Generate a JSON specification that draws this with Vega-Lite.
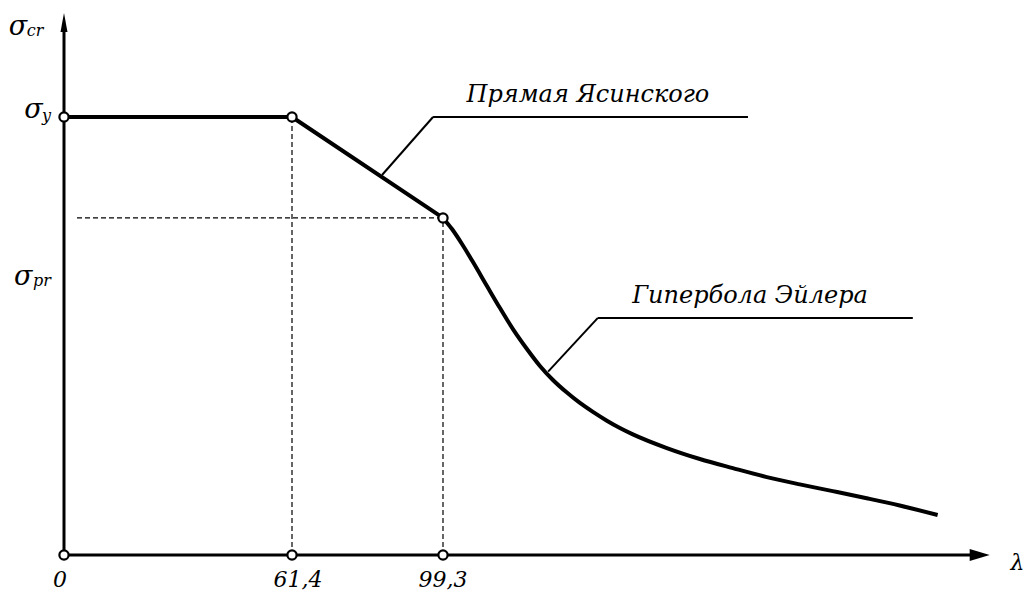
{
  "$schema": "https://vega.github.io/schema/vega-lite/v6.json",
  "width": 1028,
  "height": 594,
  "autosize": {"type": "none"},
  "padding": 0,
  "background": "white",
  "config": {"view": {"stroke": null}},
  "datasets": {
    "axes": [
      {"x": 0, "y": 0, "x2": 0, "y2": 287.7},
      {"x": 0, "y": 0, "x2": 232.8, "y2": 0}
    ],
    "dashed": [
      {"x": 61.4, "y": 0, "x2": 61.4, "y2": 240},
      {"x": 99.3, "y": 0, "x2": 99.3, "y2": 184.7},
      {"x": 3.5, "y": 184.7, "x2": 99.3, "y2": 184.7}
    ],
    "leaders": [
      {"x": 84.0, "y": 208.2, "x2": 96.8, "y2": 240},
      {"x": 96.8, "y": 240, "x2": 175.9, "y2": 240},
      {"x": 125.7, "y": 100.5, "x2": 138.2, "y2": 129.9},
      {"x": 138.2, "y": 129.9, "x2": 217.3, "y2": 129.9}
    ],
    "straight": [
      {"x": 0, "y": 240},
      {"x": 61.4, "y": 240},
      {"x": 99.3, "y": 184.7}
    ],
    "hyperbola": [
      {"x": 99.3, "y": 184.7},
      {"x": 101.56, "y": 178.6},
      {"x": 104.07, "y": 170.4},
      {"x": 106.83, "y": 160.5},
      {"x": 110.34, "y": 147.4},
      {"x": 113.61, "y": 135.3},
      {"x": 116.87, "y": 123.8},
      {"x": 120.38, "y": 112.9},
      {"x": 123.65, "y": 103.6},
      {"x": 126.91, "y": 95.9},
      {"x": 130.42, "y": 89.0},
      {"x": 133.69, "y": 83.3},
      {"x": 136.95, "y": 78.4},
      {"x": 140.46, "y": 73.6},
      {"x": 143.73, "y": 69.6},
      {"x": 146.99, "y": 66.1},
      {"x": 155.52, "y": 58.6},
      {"x": 163.81, "y": 52.6},
      {"x": 172.09, "y": 47.6},
      {"x": 180.63, "y": 42.7},
      {"x": 188.91, "y": 38.7},
      {"x": 197.19, "y": 35.0},
      {"x": 205.72, "y": 31.1},
      {"x": 214.01, "y": 27.1},
      {"x": 223.54, "y": 21.9}
    ],
    "arrowUp": [{"x": 0, "y": 291.8}],
    "arrowRight": [{"x": 234.1, "y": 0}],
    "nodes": [
      {"x": 0, "y": 240},
      {"x": 61.4, "y": 240},
      {"x": 99.3, "y": 184.7},
      {"x": 0, "y": 0},
      {"x": 61.4, "y": 0},
      {"x": 99.3, "y": 0}
    ],
    "sigma": [
      {"x": -12.4, "y": 284.9, "text": "σ"},
      {"x": -8.2, "y": 239.5, "text": "σ"},
      {"x": -11.0, "y": 147.9, "text": "σ"}
    ],
    "subs": [
      {"x": -10.0, "y": 284.4, "text": "cr"},
      {"x": -5.9, "y": 237.8, "text": "y"},
      {"x": -8.35, "y": 147.4, "text": "pr"}
    ],
    "ticks": [
      {"x": -1.1, "y": -17.5, "text": "0"},
      {"x": 62.9, "y": -17.5, "text": "61,4"},
      {"x": 99.3, "y": -17.5, "text": "99,3"},
      {"x": 243.6, "y": -8.2, "text": "λ"}
    ],
    "notes": [
      {"x": 135.7, "y": 248.2, "text": "Прямая Ясинского"},
      {"x": 176.4, "y": 138.1, "text": "Гипербола Эйлера"}
    ]
  },
  "encoding": {
    "x": {"field": "x", "type": "quantitative", "axis": null,
          "scale": {"domain": [0, 61.4, 99.3, 250], "range": [64, 292, 443, 1043], "zero": false, "nice": false}},
    "y": {"field": "y", "type": "quantitative", "axis": null,
          "scale": {"domain": [0, 240], "range": [555, 117], "zero": false, "nice": false}}
  },
  "layer": [
    {"data": {"name": "dashed"}, "mark": {"type": "rule", "stroke": "black", "strokeWidth": 1.2, "strokeDash": [5, 3]},
     "encoding": {"x2": {"field": "x2"}, "y2": {"field": "y2"}}},
    {"data": {"name": "axes"}, "mark": {"type": "rule", "stroke": "black", "strokeWidth": 3},
     "encoding": {"x2": {"field": "x2"}, "y2": {"field": "y2"}}},
    {"data": {"name": "leaders"}, "mark": {"type": "rule", "stroke": "black", "strokeWidth": 2},
     "encoding": {"x2": {"field": "x2"}, "y2": {"field": "y2"}}},
    {"data": {"name": "straight"}, "mark": {"type": "line", "stroke": "black", "strokeWidth": 4, "strokeJoin": "round"}},
    {"data": {"name": "hyperbola"}, "mark": {"type": "line", "stroke": "black", "strokeWidth": 4, "interpolate": "monotone", "strokeCap": "butt"}},
    {"data": {"name": "arrowUp"}, "mark": {"type": "point", "shape": "M0,-1L0.37,1L-0.37,1Z", "size": 361, "filled": true, "fill": "black", "opacity": 1, "strokeWidth": 0}},
    {"data": {"name": "arrowRight"}, "mark": {"type": "point", "shape": "M1,0L-1,-0.6L-1,0.6Z", "size": 400, "filled": true, "fill": "black", "opacity": 1, "strokeWidth": 0}},
    {"data": {"name": "nodes"}, "mark": {"type": "point", "shape": "circle", "size": 85, "filled": true, "fill": "white", "stroke": "black", "strokeWidth": 2.2, "opacity": 1}},
    {"data": {"name": "sigma"}, "mark": {"type": "text", "font": "DejaVu Serif", "fontStyle": "italic", "fontSize": 27, "align": "center", "baseline": "alphabetic", "color": "black"},
     "encoding": {"text": {"field": "text"}}},
    {"data": {"name": "subs"}, "mark": {"type": "text", "font": "DejaVu Serif", "fontStyle": "italic", "fontSize": 16, "align": "left", "baseline": "alphabetic", "color": "black"},
     "encoding": {"text": {"field": "text"}}},
    {"data": {"name": "ticks"}, "mark": {"type": "text", "font": "DejaVu Serif", "fontStyle": "italic", "fontSize": 22, "align": "center", "baseline": "alphabetic", "color": "black"},
     "encoding": {"text": {"field": "text"}}},
    {"data": {"name": "notes"}, "mark": {"type": "text", "font": "DejaVu Serif", "fontStyle": "italic", "fontSize": 24, "align": "center", "baseline": "alphabetic", "color": "black"},
     "encoding": {"text": {"field": "text"}}}
  ]
}
